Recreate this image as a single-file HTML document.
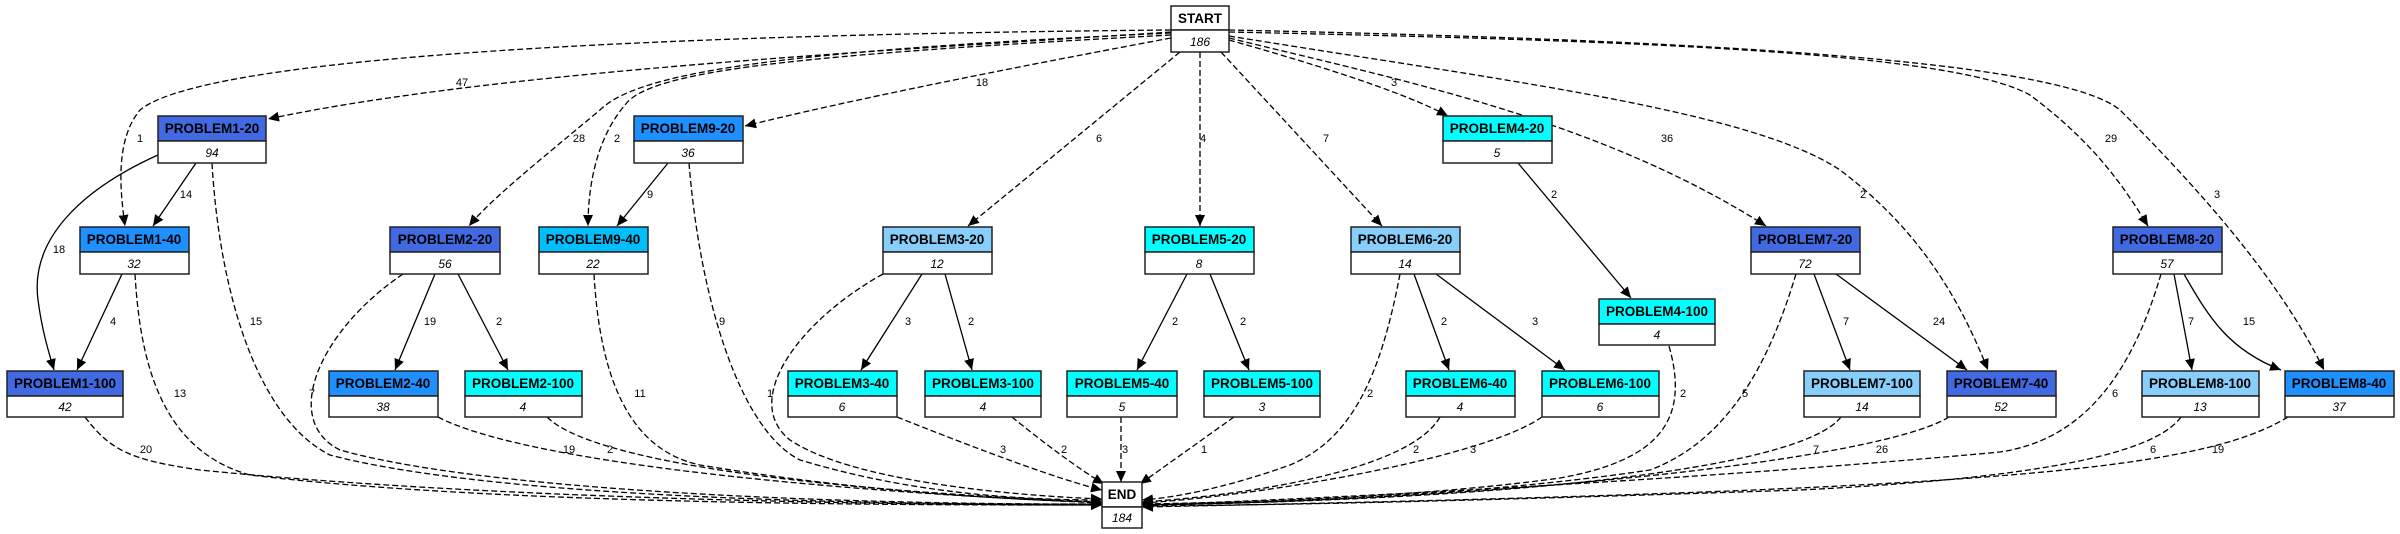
<!DOCTYPE html>
<html><head><meta charset="utf-8"><style>
html,body{margin:0;padding:0;background:#fff;}
svg{display:block;}
.n{font-family:"Liberation Sans",sans-serif;font-weight:bold;font-size:13.5px;text-anchor:middle;fill:#000;}
.v{font-family:"Liberation Sans",sans-serif;font-style:italic;font-size:12px;text-anchor:middle;fill:#000;}
.l{font-family:"Liberation Sans",sans-serif;font-size:11px;text-anchor:middle;fill:#000;}
.d{fill:none;stroke:#000;stroke-width:1.3;stroke-dasharray:6,3;marker-end:url(#a);}
.s{fill:none;stroke:#000;stroke-width:1.3;marker-end:url(#a);}
rect{stroke:#222;stroke-width:1.5;}
</style></head><body>
<svg width="2400" height="534" viewBox="0 0 2400 534" xmlns="http://www.w3.org/2000/svg">
<defs><marker id="a" markerWidth="12" markerHeight="10" refX="11" refY="5" orient="auto" markerUnits="userSpaceOnUse"><path d="M0,0 L11,5 L0,10 z" fill="#000"/></marker></defs>

<!-- edges from START -->
<path class="d" d="M1171,32 C900,50 500,70 268,119"/>
<path class="d" d="M1171,30 C600,35 200,60 140,110 C115,140 120,190 125,226"/>
<path class="d" d="M1171,33 C800,50 640,70 600,110 C540,160 490,200 469,226"/>
<path class="d" d="M1171,35 C800,55 650,70 625,105 C595,140 588,190 588,226"/>
<path class="d" d="M1171,38 C1000,70 850,100 745,126"/>
<path class="d" d="M1180,52 L968,226"/>
<path class="d" d="M1200,52 L1200,226"/>
<path class="d" d="M1221,52 L1382,226"/>
<path class="d" d="M1229,40 C1300,60 1400,90 1448,116"/>
<path class="d" d="M1229,38 C1400,80 1600,120 1766,226"/>
<path class="d" d="M1229,36 C1500,80 1750,110 1840,170 C1920,230 1960,300 1988,370"/>
<path class="d" d="M1229,32 C1600,40 1950,50 2030,95 C2090,140 2120,180 2148,226"/>
<path class="d" d="M1229,30 C1700,40 2060,60 2120,110 C2200,190 2280,280 2324,370"/>

<!-- solid edges -->
<path class="s" d="M196,163 L153,226"/>
<path class="s" d="M158,155 C80,190 30,240 38,300 C42,330 48,350 54,370"/>
<path class="s" d="M122,274 L77,370"/>
<path class="s" d="M668,163 L617,226"/>
<path class="s" d="M435,274 L395,370"/>
<path class="s" d="M458,274 L508,370"/>
<path class="s" d="M922,274 L861,370"/>
<path class="s" d="M945,274 L972,370"/>
<path class="s" d="M1187,274 L1137,370"/>
<path class="s" d="M1210,274 L1249,370"/>
<path class="s" d="M1414,274 L1449,370"/>
<path class="s" d="M1436,274 L1565,370"/>
<path class="s" d="M1518,163 L1631,298"/>
<path class="s" d="M1814,274 L1850,370"/>
<path class="s" d="M1836,274 L1967,370"/>
<path class="s" d="M2174,274 L2192,370"/>
<path class="s" d="M2184,274 C2210,320 2230,350 2281,370"/>

<!-- edges to END -->
<path class="d" d="M85,417 C110,450 130,460 200,470 C500,500 900,505 1102,505"/>
<path class="d" d="M135,274 C140,360 160,450 250,475 C500,505 900,505 1102,505"/>
<path class="d" d="M212,163 C220,300 260,420 330,455 C500,500 900,505 1102,504"/>
<path class="d" d="M403,274 C320,330 280,420 340,450 C500,495 900,505 1102,504"/>
<path class="d" d="M438,417 C520,460 800,490 1102,503"/>
<path class="d" d="M547,417 C590,460 800,490 1102,502"/>
<path class="d" d="M594,274 C600,380 630,450 700,465 C850,490 1000,500 1102,502"/>
<path class="d" d="M689,163 C700,300 740,430 800,460 C900,490 1000,500 1102,500"/>
<path class="d" d="M883,274 C800,320 740,400 790,440 C850,480 1000,495 1102,499"/>
<path class="d" d="M897,417 C980,450 1060,480 1102,490"/>
<path class="d" d="M1012,417 C1040,440 1080,470 1104,484"/>
<path class="d" d="M1121,417 L1121,482"/>
<path class="d" d="M1234,417 L1140,484"/>
<path class="d" d="M1400,274 C1380,380 1350,440 1290,465 C1220,490 1170,498 1142,500"/>
<path class="d" d="M1440,417 C1410,470 1250,495 1142,502"/>
<path class="d" d="M1542,417 C1480,460 1250,497 1142,503"/>
<path class="d" d="M1669,346 C1690,420 1660,460 1560,478 C1400,500 1200,503 1142,504"/>
<path class="d" d="M1796,274 C1770,360 1730,440 1650,470 C1450,500 1200,504 1142,505"/>
<path class="d" d="M1841,417 C1800,470 1500,500 1142,505"/>
<path class="d" d="M1949,417 C1880,460 1500,500 1142,505"/>
<path class="d" d="M2161,274 C2130,380 2080,440 2000,452 C1700,480 1300,500 1142,505"/>
<path class="d" d="M2181,417 C2150,460 2000,480 1800,490 C1500,500 1300,505 1142,506"/>
<path class="d" d="M2288,417 C2200,470 2000,490 1142,507"/>

<!-- edge labels -->
<g class="l">
<text x="462" y="86">47</text><text x="140" y="142">1</text><text x="579" y="142">28</text><text x="617" y="142">2</text>
<text x="186" y="198">14</text><text x="650" y="198">9</text><text x="59" y="253">18</text>
<text x="113" y="325">4</text><text x="256" y="325">15</text><text x="430" y="325">19</text><text x="499" y="325">2</text><text x="722" y="325">9</text>
<text x="180" y="397">13</text><text x="312" y="397">7</text><text x="640" y="397">11</text><text x="770" y="397">1</text>
<text x="146" y="453">20</text><text x="569" y="453">19</text><text x="610" y="453">2</text>
<text x="982" y="86">18</text><text x="1394" y="86">3</text><text x="1099" y="142">6</text><text x="1203" y="142">4</text><text x="1326" y="142">7</text>
<text x="1554" y="198">2</text>
<text x="908" y="325">3</text><text x="971" y="325">2</text><text x="1175" y="325">2</text><text x="1243" y="325">2</text><text x="1444" y="325">2</text><text x="1535" y="325">3</text>
<text x="1370" y="397">2</text>
<text x="1003" y="453">3</text><text x="1064" y="453">2</text><text x="1125" y="453">3</text><text x="1204" y="453">1</text><text x="1416" y="453">2</text><text x="1473" y="453">3</text>
<text x="1667" y="142">36</text><text x="2111" y="142">29</text><text x="1863" y="198">2</text><text x="2217" y="198">3</text>
<text x="1846" y="325">7</text><text x="1939" y="325">24</text><text x="2191" y="325">7</text><text x="2249" y="325">15</text>
<text x="1683" y="397">2</text><text x="1745" y="397">5</text><text x="2115" y="397">6</text>
<text x="1816" y="453">7</text><text x="1882" y="453">26</text><text x="2153" y="453">6</text><text x="2218" y="453">19</text>
</g>

<!-- nodes -->
<g>
<!-- START / END -->
<rect x="1171" y="6" width="58" height="24" fill="#fff"/><rect x="1171" y="30" width="58" height="22" fill="#fff"/>
<text class="n" x="1200" y="23">START</text><text class="v" x="1200" y="46">186</text>
<rect x="1102" y="482" width="40" height="25" fill="#fff"/><rect x="1102" y="507" width="40" height="21" fill="#fff"/>
<text class="n" x="1122" y="499">END</text><text class="v" x="1122" y="522">184</text>

<!-- row1 -->
<rect x="158" y="116" width="108" height="25" fill="#4169e1"/><rect x="158" y="141" width="108" height="22" fill="#fff"/>
<text class="n" x="212" y="133">PROBLEM1-20</text><text class="v" x="212" y="157">94</text>
<rect x="634" y="116" width="109" height="25" fill="#1e90ff"/><rect x="634" y="141" width="109" height="22" fill="#fff"/>
<text class="n" x="688" y="133">PROBLEM9-20</text><text class="v" x="688" y="157">36</text>
<rect x="1443" y="116" width="109" height="25" fill="#00ffff"/><rect x="1443" y="141" width="109" height="22" fill="#fff"/>
<text class="n" x="1497" y="133">PROBLEM4-20</text><text class="v" x="1497" y="157">5</text>

<!-- row2 -->
<rect x="80" y="227" width="109" height="25" fill="#1e90ff"/><rect x="80" y="252" width="109" height="22" fill="#fff"/>
<text class="n" x="134" y="244">PROBLEM1-40</text><text class="v" x="134" y="268">32</text>
<rect x="390" y="227" width="110" height="25" fill="#4169e1"/><rect x="390" y="252" width="110" height="22" fill="#fff"/>
<text class="n" x="445" y="244">PROBLEM2-20</text><text class="v" x="445" y="268">56</text>
<rect x="539" y="227" width="109" height="25" fill="#00bfff"/><rect x="539" y="252" width="109" height="22" fill="#fff"/>
<text class="n" x="593" y="244">PROBLEM9-40</text><text class="v" x="593" y="268">22</text>
<rect x="883" y="227" width="109" height="25" fill="#87cefa"/><rect x="883" y="252" width="109" height="22" fill="#fff"/>
<text class="n" x="937" y="244">PROBLEM3-20</text><text class="v" x="937" y="268">12</text>
<rect x="1145" y="227" width="109" height="25" fill="#00ffff"/><rect x="1145" y="252" width="109" height="22" fill="#fff"/>
<text class="n" x="1199" y="244">PROBLEM5-20</text><text class="v" x="1199" y="268">8</text>
<rect x="1351" y="227" width="109" height="25" fill="#87cefa"/><rect x="1351" y="252" width="109" height="22" fill="#fff"/>
<text class="n" x="1405" y="244">PROBLEM6-20</text><text class="v" x="1405" y="268">14</text>
<rect x="1751" y="227" width="109" height="25" fill="#4169e1"/><rect x="1751" y="252" width="109" height="22" fill="#fff"/>
<text class="n" x="1805" y="244">PROBLEM7-20</text><text class="v" x="1805" y="268">72</text>
<rect x="2113" y="227" width="109" height="25" fill="#4169e1"/><rect x="2113" y="252" width="109" height="22" fill="#fff"/>
<text class="n" x="2167" y="244">PROBLEM8-20</text><text class="v" x="2167" y="268">57</text>
<rect x="1599" y="299" width="116" height="25" fill="#00ffff"/><rect x="1599" y="324" width="116" height="21" fill="#fff"/>
<text class="n" x="1657" y="316">PROBLEM4-100</text><text class="v" x="1657" y="339">4</text>

<!-- row3 -->
<rect x="7" y="371" width="116" height="25" fill="#4169e1"/><rect x="7" y="396" width="116" height="21" fill="#fff"/>
<text class="n" x="65" y="388">PROBLEM1-100</text><text class="v" x="65" y="411">42</text>
<rect x="329" y="371" width="109" height="25" fill="#1e90ff"/><rect x="329" y="396" width="109" height="21" fill="#fff"/>
<text class="n" x="383" y="388">PROBLEM2-40</text><text class="v" x="383" y="411">38</text>
<rect x="465" y="371" width="117" height="25" fill="#00ffff"/><rect x="465" y="396" width="117" height="21" fill="#fff"/>
<text class="n" x="523" y="388">PROBLEM2-100</text><text class="v" x="523" y="411">4</text>
<rect x="788" y="371" width="109" height="25" fill="#00ffff"/><rect x="788" y="396" width="109" height="21" fill="#fff"/>
<text class="n" x="842" y="388">PROBLEM3-40</text><text class="v" x="842" y="411">6</text>
<rect x="925" y="371" width="116" height="25" fill="#00ffff"/><rect x="925" y="396" width="116" height="21" fill="#fff"/>
<text class="n" x="983" y="388">PROBLEM3-100</text><text class="v" x="983" y="411">4</text>
<rect x="1067" y="371" width="110" height="25" fill="#00ffff"/><rect x="1067" y="396" width="110" height="21" fill="#fff"/>
<text class="n" x="1122" y="388">PROBLEM5-40</text><text class="v" x="1122" y="411">5</text>
<rect x="1204" y="371" width="116" height="25" fill="#00ffff"/><rect x="1204" y="396" width="116" height="21" fill="#fff"/>
<text class="n" x="1262" y="388">PROBLEM5-100</text><text class="v" x="1262" y="411">3</text>
<rect x="1406" y="371" width="109" height="25" fill="#00ffff"/><rect x="1406" y="396" width="109" height="21" fill="#fff"/>
<text class="n" x="1460" y="388">PROBLEM6-40</text><text class="v" x="1460" y="411">4</text>
<rect x="1542" y="371" width="117" height="25" fill="#00ffff"/><rect x="1542" y="396" width="117" height="21" fill="#fff"/>
<text class="n" x="1600" y="388">PROBLEM6-100</text><text class="v" x="1600" y="411">6</text>
<rect x="1804" y="371" width="116" height="25" fill="#87cefa"/><rect x="1804" y="396" width="116" height="21" fill="#fff"/>
<text class="n" x="1862" y="388">PROBLEM7-100</text><text class="v" x="1862" y="411">14</text>
<rect x="1947" y="371" width="109" height="25" fill="#4169e1"/><rect x="1947" y="396" width="109" height="21" fill="#fff"/>
<text class="n" x="2001" y="388">PROBLEM7-40</text><text class="v" x="2001" y="411">52</text>
<rect x="2142" y="371" width="117" height="25" fill="#87cefa"/><rect x="2142" y="396" width="117" height="21" fill="#fff"/>
<text class="n" x="2200" y="388">PROBLEM8-100</text><text class="v" x="2200" y="411">13</text>
<rect x="2285" y="371" width="109" height="25" fill="#1e90ff"/><rect x="2285" y="396" width="109" height="21" fill="#fff"/>
<text class="n" x="2339" y="388">PROBLEM8-40</text><text class="v" x="2339" y="411">37</text>
</g>
</svg>
</body></html>
